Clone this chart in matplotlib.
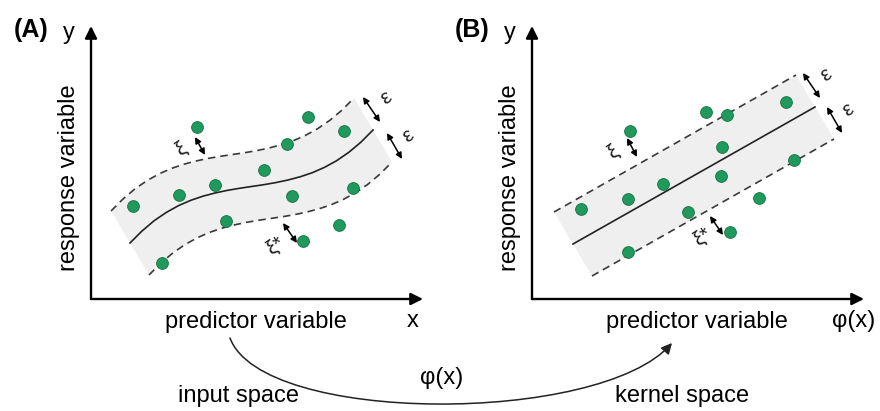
import matplotlib
matplotlib.use("Agg")
import matplotlib.pyplot as plt
from matplotlib.patches import FancyArrowPatch, Polygon
from matplotlib.path import Path
import numpy as np

plt.rcParams['font.family'] = ['Liberation Sans', 'DejaVu Sans']

# ---------------- data (panel units, origin at the axes corner) ----------------
# Panel A: input space (non-linear fit)
pts_a_x = [42, 71, 88, 106, 124, 135, 173, 196, 201, 212, 217, 248, 253, 262]
pts_a_y = [93, 36, 104, 172, 114, 78, 129, 155, 103, 58, 182, 74, 168, 111]
curve_a_x = [39, 51, 63.3, 75.5, 87.6, 99.8, 111.9, 124, 136.2, 148.4, 160.5,
             172.7, 184.8, 197, 209.1, 221.3, 233.4, 245.6, 257.7, 269.9, 282]
curve_a_y = [56, 68, 78.4, 86.7, 93.4, 98.7, 102.8, 106, 108.6, 110.7, 112.5,
             114.3, 116.4, 119, 122.2, 126.3, 131.6, 138.3, 146.6, 156.8, 169]

# Panel B: kernel space (linear fit)
pts_b_x = [49, 96, 96, 98, 131, 156, 174, 189, 190, 195, 198, 227, 254, 262]
pts_b_y = [90, 100, 47, 168, 115, 87, 187, 123, 152, 184, 67, 101, 197, 139]
line_b_x = [41, 283]
line_b_y = [55, 192]

# epsilon tube offset (perpendicular shift of the fit)
eps_dx, eps_dy = -19, 32

# annotation arrows: (x0, y0, x1, y1, label, lx, ly)
ann_a = [(272, 202, 289, 177, 'ε', 295, 201),
         (296, 166, 311, 140, 'ε', 317, 163),
         (104, 162, 114, 144, 'ξ', 90, 150),
         (192, 76, 206, 56, 'ξ*', 184, 53)]
ann_b = [(271, 226, 288, 201, 'ε', 294, 224),
         (295, 192, 310, 166, 'ε', 316, 189),
         (95, 161, 105, 142, 'ξ', 81, 147),
         (178, 83, 191, 64, 'ξ*', 170, 62)]

W, H = 880, 411
fig = plt.figure(figsize=(W / 100, H / 100), dpi=100)
fig.patch.set_facecolor('white')

PT_COL = '#1f9a5c'
PT_EDGE = '#137042'
FS = 17


def panel(ox, letter, xs, ys, cx, cy, ann, xlab):
    ax = fig.add_axes([ox / W, (H - 299) / H, 360 / W, 290 / H])
    ax.set_xlim(0, 360)
    ax.set_ylim(0, 290)
    ax.axis('off')
    cx = np.asarray(cx, float)
    cy = np.asarray(cy, float)
    ux, uy = cx + eps_dx, cy + eps_dy
    lx, ly = cx - eps_dx, cy - eps_dy
    poly = np.column_stack([np.r_[ux, lx[::-1]], np.r_[uy, ly[::-1]]])
    ax.add_patch(Polygon(poly, closed=True, facecolor='#efefef', edgecolor='none', zorder=1))
    ax.plot(ux, uy, color='#3a3a3a', lw=1.2, ls=(0, (4.5, 3)), zorder=2)
    ax.plot(lx, ly, color='#3a3a3a', lw=1.2, ls=(0, (4.5, 3)), zorder=2)
    ax.plot(cx, cy, color='#222222', lw=1.2, zorder=3, solid_joinstyle='round')
    ax.scatter(xs, ys, s=72, color=PT_COL, edgecolor=PT_EDGE, linewidth=0.6, zorder=4)
    # axes arrows
    ax.annotate('', xy=(0, 273), xytext=(0, 0),
                arrowprops=dict(arrowstyle='-|>', color='black', lw=1.7, mutation_scale=18,
                                shrinkA=0, shrinkB=0))
    ax.annotate('', xy=(332, 0), xytext=(0, 0),
                arrowprops=dict(arrowstyle='-|>', color='black', lw=1.7, mutation_scale=18,
                                shrinkA=0, shrinkB=0))
    for (x0, y0, x1, y1, lab, tx, ty) in ann:
        ax.annotate('', xy=(x1, y1), xytext=(x0, y0),
                    arrowprops=dict(arrowstyle='<|-|>', color='black', lw=1.1, mutation_scale=9,
                                    shrinkA=0, shrinkB=0), zorder=5)
        ax.text(tx, ty, lab, fontsize=15, rotation=35, ha='center', va='center', color='#222222')
    ax.text(-60, 269, letter, fontsize=18, fontweight='bold', ha='center', va='center')
    ax.text(-22, 266, 'y', fontsize=FS, ha='center', va='center')
    ax.text(-22, 121, 'response variable', fontsize=FS, rotation=90, ha='center', va='center')
    ax.text(165, -23, 'predictor variable', fontsize=FS, ha='center', va='center')
    ax.text(322, -22, xlab, fontsize=FS, ha='center', va='center')
    return ax


panel(91, '(A)', pts_a_x, pts_a_y, curve_a_x, curve_a_y, ann_a, 'x')
panel(532, '(B)', pts_b_x, pts_b_y, line_b_x, line_b_y, ann_b, 'φ(x)')

# overlay for the mapping arrow
ov = fig.add_axes([0, 0, 1, 1])
ov.set_xlim(0, W)
ov.set_ylim(H, 0)
ov.axis('off')
verts = [(230, 338), (262, 425), (600, 425), (672, 343)]
path = Path(verts, [Path.MOVETO, Path.CURVE4, Path.CURVE4, Path.CURVE4])
ov.add_patch(FancyArrowPatch(path=path, arrowstyle='-|>', mutation_scale=16, lw=1.1,
                             color='#222222'))
ov.text(239, 396, 'input space', fontsize=FS, ha='center', va='center')
ov.text(682, 396, 'kernel space', fontsize=FS, ha='center', va='center')
ov.text(442, 378, 'φ(x)', fontsize=FS, ha='center', va='center')

fig.savefig('out.png', dpi=100)
